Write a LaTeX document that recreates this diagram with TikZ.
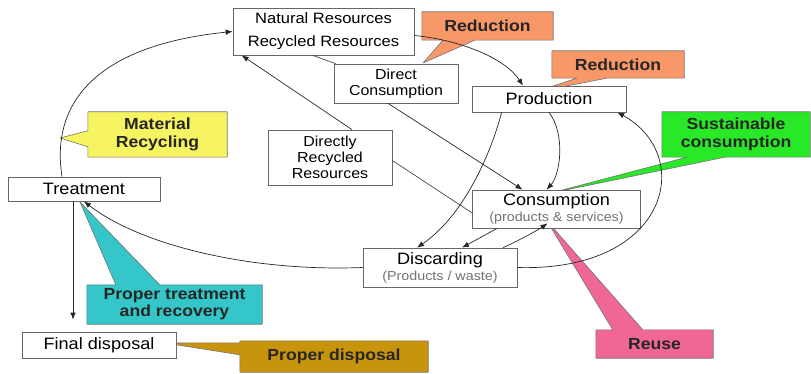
\documentclass[tikz,border=0pt]{standalone}
\usepackage{fontspec}
\setmainfont{Liberation Sans}[FakeStretch=1.1]
\usepackage{tikz}
\usetikzlibrary{arrows.meta,positioning,backgrounds}

\definecolor{redorange}{RGB}{248,152,104}
\definecolor{sustgreen}{RGB}{40,232,40}
\definecolor{recyellow}{RGB}{246,244,96}
\definecolor{treatcyan}{RGB}{52,198,200}
\definecolor{dispgold}{RGB}{200,148,12}
\definecolor{reusepink}{RGB}{240,102,150}

\begin{document}
\begin{tikzpicture}[
    x=1pt, y=-1pt,
    box/.style={rectangle, draw=black!60, fill=white, line width=0.7pt, inner sep=1pt, align=center, font=\fontsize{16.5}{18}\selectfont},
    sbox/.style={box, font=\fontsize{14.5}{16}\selectfont},
    note/.style={rectangle, align=center, inner sep=0pt, text=black!85, font=\bfseries\fontsize{16}{18}\selectfont},
    tag/.style={draw=black!55, line width=0.6pt, line join=round},
    arr/.style={-{Latex[length=7pt,width=5.5pt]}, draw=black!85, line width=0.7pt},
    link/.style={draw=black!70, line width=0.7pt}
  ]
    \useasboundingbox (0,0) rectangle (811,374);

    % Nodes
    \node[sbox, minimum width=181pt, minimum height=47pt, font=\fontsize{15}{23}\selectfont] (res) at (323.5,31.5) {Natural Resources\\Recycled Resources};
    \node[sbox, minimum width=124pt, minimum height=39pt] (direct) at (396,83.5) {Direct\\Consumption};
    \node[box, minimum width=154pt, minimum height=26pt] (prod) at (549,99) {Production};
    \node[sbox, minimum width=124pt, minimum height=55pt] (drr) at (330,157.5) {Directly\\Recycled\\Resources};
    \node[box, minimum width=152pt, minimum height=24pt] (treat) at (84,189) {Treatment};
    \node[box, minimum width=168pt, minimum height=38pt, font=\fontsize{16.5}{15.5}\selectfont] (cons) at (556.5,209) {Consumption\\{\color{black!55}\fontsize{13}{14}\selectfont(products \& services)}};
    \node[box, minimum width=154pt, minimum height=39pt, font=\fontsize{16.5}{16}\selectfont] (disc) at (440,267.5) {Discarding\\{\color{black!55}\fontsize{13}{14}\selectfont(Products / waste)}};
    \node[box, minimum width=154pt, minimum height=26pt] (final) at (99,345) {Final disposal};

    % Callouts
    \node[note, minimum width=131pt, minimum height=28pt] (red1) at (487.5,26) {Reduction};
    \node[note, minimum width=132pt, minimum height=27pt] (red2) at (618,64.5) {Reduction};
    \node[note, minimum width=148pt, minimum height=45pt] (sust) at (736,134.5) {Sustainable\\consumption};
    \node[note, minimum width=139pt, minimum height=45pt] (matrec) at (157.5,134.5) {Material\\Recycling};
    \node[note, minimum width=175pt, minimum height=39pt, font=\bfseries\fontsize{16}{17}\selectfont] (ptreat) at (174.5,304.5) {Proper treatment\\and recovery};
    \node[note, minimum width=188pt, minimum height=31pt] (pdisp) at (334,356.5) {Proper disposal};
    \node[note, minimum width=117pt, minimum height=28pt] (reuse) at (654.5,344) {Reuse};

    \coordinate (red1tip) at (423,63);
    \coordinate (red2tip) at (535,92);
    \coordinate (susttip) at (551,193);
    \coordinate (mattip) at (60,138);
    \coordinate (treattip) at (80,202);
    \coordinate (disptip) at (165,343);
    \coordinate (reusetip) at (547,221);

    \begin{scope}[on background layer]
      \draw[tag, fill=redorange] (red1.south west) -- ([xshift=21pt]red1.south west) -- (red1tip) -- ([xshift=53pt]red1.south west) -- (red1.south east) -- (red1.north east) -- (red1.north west) -- cycle;
      \draw[tag, fill=redorange] (red2.south west) -- ([xshift=25pt]red2.south west) -- (red2tip) -- ([xshift=55pt]red2.south west) -- (red2.south east) -- (red2.north east) -- (red2.north west) -- cycle;
      \draw[tag, fill=sustgreen] (sust.south west) -- ([xshift=25pt]sust.south west) -- (susttip) -- ([xshift=63pt]sust.south west) -- (sust.south east) -- (sust.north east) -- (sust.north west) -- cycle;
      \draw[tag, fill=recyellow] (matrec.north west) -- ([yshift=-19pt]matrec.north west) -- (mattip) -- ([yshift=-35pt]matrec.north west) -- (matrec.south west) -- (matrec.south east) -- (matrec.north east) -- cycle;
      \draw[tag, fill=treatcyan] (ptreat.north west) -- ([xshift=29pt]ptreat.north west) -- (treattip) -- ([xshift=73pt]ptreat.north west) -- (ptreat.north east) -- (ptreat.south east) -- (ptreat.south west) -- cycle;
      \draw[tag, fill=dispgold] (pdisp.north west) -- ([yshift=-2pt]pdisp.north west) -- (disptip) -- ([yshift=-14pt]pdisp.north west) -- (pdisp.south west) -- (pdisp.south east) -- (pdisp.north east) -- cycle;
      \draw[tag, fill=reusepink] (reuse.north west) -- ([xshift=17pt]reuse.north west) -- (reusetip) -- ([xshift=47pt]reuse.north west) -- (reuse.north east) -- (reuse.south east) -- (reuse.south west) -- cycle;
    \end{scope}

    % Arrows
    \draw[arr] ([xshift=-22pt]treat.north) .. controls (50,100) and (100,45) .. (res.west);
    \draw[arr] ([xshift=22pt]drr.north) -- ([xshift=9pt]res.south west);
    \draw[link] ([yshift=-4pt]cons.west) -- ([yshift=-3pt]drr.east);
    \draw[link] ([xshift=-11pt]res.south) -- ([xshift=2pt]direct.north west);
    \draw[arr] ([xshift=-8pt]direct.south) -- ([xshift=-34pt]cons.north);
    \draw[arr] ([yshift=-4pt]res.east) .. controls (460,40) and (505,58) .. ([xshift=-26pt]prod.north);
    \draw[arr] (prod.south) .. controls (566,135) and (560,175) .. ([xshift=-10pt]cons.north);
    \draw[arr] ([xshift=30pt]prod.south west) .. controls (492,150) and (465,215) .. ([xshift=-23pt]disc.north);
    \draw[arr] (disc.east) .. controls (670,272) and (695,155) .. ([xshift=-9pt]prod.south east);
    \draw[arr] ([xshift=25pt]cons.south west) -- ([xshift=22pt]disc.north);
    \draw[arr] ([xshift=63pt]disc.north) .. controls (520,240) and (538,230) .. ([xshift=-9pt,yshift=5pt]cons.south);
    \draw[arr] (disc.west) .. controls (250,272) and (140,245) .. (treat.south);
    \draw[arr, shorten >=12pt] ([xshift=-11pt]treat.south) -- ([xshift=-26pt]final.north);
\end{tikzpicture}
\end{document}
